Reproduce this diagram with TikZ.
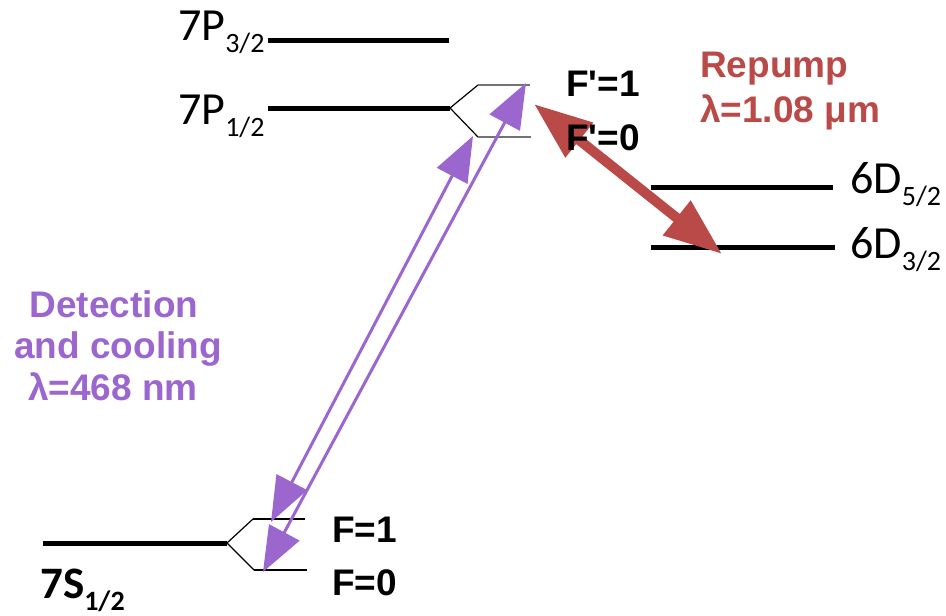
\documentclass[tikz,border=0pt]{standalone}
\usepackage{fontspec}
\setmainfont{Carlito}
\newfontfamily\arialb{Liberation Sans}[Ligatures=TeXOff]
\usetikzlibrary{arrows.meta}
\definecolor{purp}{RGB}{155,102,206}
\definecolor{repred}{RGB}{185,74,72}
\newcommand{\lvlname}[2]{#1\raisebox{-12pt}{\fontsize{28}{30}\selectfont #2}}
\begin{document}
\begin{tikzpicture}[x=1pt,y=-1pt,
  level/.style={line width=5pt, black},
  fan/.style={line width=1.2pt, black},
  subup/.style={line width=1.5pt, black!55},
  sublow/.style={line width=1.3pt, black},
  lbl/.style={inner sep=0, anchor=base west, font=\fontsize{46}{50}\selectfont},
  hf/.style={inner sep=0, anchor=base west, font=\arialb\bfseries\fontsize{37}{42}\selectfont},
  purparrow/.style={purp, line width=3pt, {Triangle[length=45pt,width=34pt]}-{Triangle[length=45pt,width=34pt]}},
  redarrow/.style={repred, line width=10pt, {Triangle[length=58pt,width=42pt]}-{Triangle[length=58pt,width=42pt]}}]
\useasboundingbox (0,0) rectangle (946,616);
% level coordinates
\coordinate (P32a) at (268,40);  \coordinate (P32b) at (449,40);
\coordinate (P12a) at (268,108); \coordinate (P12b) at (450,108);
\coordinate (D52a) at (651,187); \coordinate (D52b) at (833,187);
\coordinate (D32a) at (651,247); \coordinate (D32b) at (835,247);
\coordinate (S12a) at (43,543);  \coordinate (S12b) at (227,543);
% hyperfine
\coordinate (Fp1a) at (478,85);  \coordinate (Fp1b) at (530,85);
\coordinate (Fp0a) at (478,137); \coordinate (Fp0b) at (531,137);
\coordinate (F1a) at (253,519);  \coordinate (F1b) at (305,519);
\coordinate (F0a) at (254,570);  \coordinate (F0b) at (307,570);
% arrow ends
\coordinate (A1) at (473,136); \coordinate (A2) at (271,522);
\coordinate (B1) at (526,83);  \coordinate (B2) at (263,572);
\coordinate (R1) at (534,104); \coordinate (R2) at (722,254);

\draw[level] (P32a) -- (P32b);
\draw[level] (P12a) -- (P12b);
\draw[level] (D52a) -- (D52b);
\draw[level] (D32a) -- (D32b);
\draw[level] (S12a) -- (S12b);
\draw[fan] (Fp1a) -- (P12b) -- (Fp0a);
\draw[subup] (Fp1a) -- (Fp1b);
\draw[subup] (Fp0a) -- (Fp0b);
\draw[fan] (F1a) -- (S12b) -- (F0a);
\draw[sublow] (F1a) -- (F1b);
\draw[sublow] (F0a) -- (F0b);

\draw[purparrow] (A1) -- (A2);
\draw[purparrow] (B1) -- (B2);
\draw[redarrow] (R1) -- (R2);

\node[lbl] (l7p32) at (178,40) {\lvlname{7P}{3/2}};
\node[lbl] (l7p12) at (178,124) {\lvlname{7P}{1/2}};
\node[lbl] (l6d52) at (850,193) {\lvlname{6D}{5/2}};
\node[lbl] (l6d32) at (850,258) {\lvlname{6D}{3/2}};
\node[lbl, font=\bfseries\fontsize{45}{50}\selectfont] (l7s12) at (40,598) {\lvlname{7S}{1/2}};

\node[hf] (tfp1) at (566,96) {F'=1};
\node[hf] (tfp0) at (566,150) {F'=0};
\node[hf] (tf1) at (332,542) {F=1};
\node[hf] (tf0) at (332,595) {F=0};

\node[hf, text=repred] (rep1) at (700,77) {Repump};
\node[hf, text=repred] (rep2) at (700,122) {λ=1.08 μm};

\node[hf, anchor=base, text=purp] (det1) at (114,317) {Detection};
\node[hf, anchor=base, text=purp] (det2) at (118,358) {and cooling};
\node[hf, anchor=base, text=purp] (det3) at (113,400) {λ=468 nm};
\end{tikzpicture}
\end{document}
